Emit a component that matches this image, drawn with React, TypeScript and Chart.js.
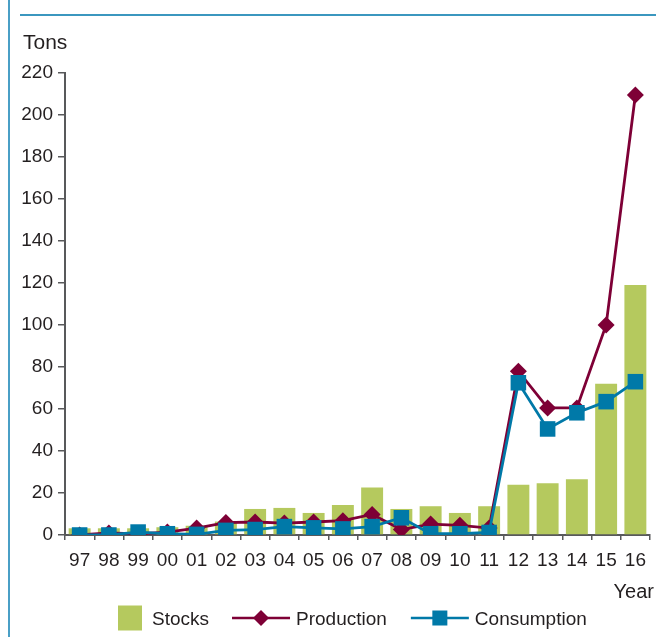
import React, { useEffect, useRef } from 'react';
import { Chart, registerables } from 'chart.js';

Chart.register(...registerables);

const categories = ['97', '98', '99', '00', '01', '02', '03', '04', '05', '06', '07', '08', '09', '10', '11', '12', '13', '14', '15', '16'];
const stocks = [3.2, 3.2, 3.2, 3.7, 4.4, 6.4, 12.4, 12.9, 10.5, 14.3, 22.6, 12.4, 13.7, 10.5, 13.7, 23.9, 24.7, 26.6, 72, 119];
const production = [0, 1, 0.5, 1.4, 3.3, 5.9, 6.2, 5.7, 6.2, 6.8, 9.8, 2.6, 5.2, 4.6, 3.3, 78, 60.5, 60.5, 100, 209.5];
const consumption = [0, 0, 1.4, 0.6, 0.3, 2.2, 2.6, 4, 3.4, 2.9, 4, 8.2, 0.6, 0.6, 1.2, 72.5, 50.5, 58.2, 63.5, 73];
const seriesNames = ['Stocks', 'Production', 'Consumption'];
const yMin = 0;
const yMax = 220;
const yStep = 20;
const unitLabel = 'Tons';
const xAxisLabel = 'Year';

const GREEN = '#b5c95e';
const MAROON = '#7e0036';
const BLUE = '#0079a8';
const TEXT = '#231f20';
const AXIS = '#58595b';
const FONT = "'Liberation Sans', Arial, sans-serif";

const extraPlugin = {
  id: 'extraText',
  afterDraw(chart: any) {
    const { ctx, chartArea: ca } = chart;
    ctx.save();
    ctx.fillStyle = TEXT;
    ctx.textBaseline = 'alphabetic';
    ctx.font = `21px ${FONT}`;
    ctx.textAlign = 'left';
    ctx.fillText(unitLabel, ca.left - 42, ca.top - 24);
    ctx.font = `20px ${FONT}`;
    ctx.textAlign = 'right';
    ctx.fillText(xAxisLabel, ca.right + 4, ca.bottom + 63);

    // legend
    const ds = chart.data.datasets;
    ctx.font = `19px ${FONT}`;
    ctx.textAlign = 'left';
    const cy = ca.bottom + 83;
    let x = ca.left + 53;
    ctx.fillStyle = ds[0].backgroundColor;
    ctx.fillRect(x, cy - 12.5, 24, 25);
    x += 24 + 10;
    ctx.fillStyle = TEXT;
    ctx.fillText(ds[0].label, x, cy + 7);
    x += ctx.measureText(ds[0].label).width + 23;
    for (const i of [1, 2]) {
      const d = ds[i];
      ctx.strokeStyle = d.borderColor;
      ctx.lineWidth = 2.4;
      ctx.beginPath();
      ctx.moveTo(x, cy);
      ctx.lineTo(x + 58, cy);
      ctx.stroke();
      ctx.fillStyle = d.borderColor;
      const mx = x + 29;
      if (d.pointStyle === 'rectRot') {
        const r = 8;
        ctx.beginPath();
        ctx.moveTo(mx, cy - r);
        ctx.lineTo(mx + r, cy);
        ctx.lineTo(mx, cy + r);
        ctx.lineTo(mx - r, cy);
        ctx.closePath();
        ctx.fill();
      } else {
        ctx.fillRect(mx - 7.5, cy - 7.5, 15, 15);
      }
      x += 58 + 6;
      ctx.fillStyle = TEXT;
      ctx.fillText(d.label, x, cy + 7);
      x += ctx.measureText(d.label).width + 24;
    }
    ctx.restore();
  },
};

export default function App() {
  const ref = useRef<HTMLCanvasElement | null>(null);

  useEffect(() => {
    if (!ref.current) return;
    const chart = new Chart(ref.current, {
      type: 'bar',
      data: {
        labels: categories,
        datasets: [
          {
            type: 'bar',
            label: seriesNames[0],
            data: stocks,
            backgroundColor: GREEN,
            barPercentage: 0.75,
            categoryPercentage: 1,
            order: 3,
          } as any,
          {
            type: 'line',
            label: seriesNames[1],
            data: production,
            borderColor: MAROON,
            backgroundColor: MAROON,
            borderWidth: 2.8,
            tension: 0,
            pointStyle: 'rectRot',
            pointRadius: 8.5,
            pointBorderWidth: 0,
            pointBackgroundColor: MAROON,
            order: 2,
          } as any,
          {
            type: 'line',
            label: seriesNames[2],
            data: consumption,
            borderColor: BLUE,
            backgroundColor: BLUE,
            borderWidth: 2.8,
            tension: 0,
            pointStyle: 'rect',
            pointRadius: 11,
            pointBorderWidth: 0,
            pointBackgroundColor: BLUE,
            order: 1,
          } as any,
        ],
      },
      options: {
        animation: false,
        responsive: false,
        devicePixelRatio: 1,
        layout: { padding: { left: 0, right: 17, top: 73, bottom: 62 } },
        plugins: {
          legend: { display: false },
          title: { display: false },
          tooltip: { enabled: false },
        },
        scales: {
          x: {
            offset: true,
            grid: {
              offset: true,
              drawOnChartArea: false,
              drawTicks: true,
              tickLength: 5,
              color: AXIS,
              lineWidth: 1.5,
            },
            border: { display: true, color: AXIS, width: 2 },
            ticks: {
              color: TEXT,
              font: { family: FONT, size: 19 },
              padding: 9,
              maxRotation: 0,
              autoSkip: false,
            },
            afterFit: (s: any) => {
              s.height = 40;
            },
          },
          y: {
            min: yMin,
            max: yMax,
            grid: {
              drawOnChartArea: false,
              drawTicks: true,
              tickLength: 7,
              color: AXIS,
              lineWidth: 1.5,
            },
            border: { display: true, color: AXIS, width: 2 },
            ticks: {
              stepSize: yStep,
              color: TEXT,
              font: { family: FONT, size: 19 },
              padding: 5,
              autoSkip: false,
            },
            afterFit: (s: any) => {
              s.width = 65;
            },
          },
        },
      },
      plugins: [extraPlugin],
    });
    return () => chart.destroy();
  }, []);

  return (
    <div style={{ position: 'absolute', left: 0, top: 0, width: 667, height: 637, background: '#fff', overflow: 'hidden' }}>
      <div style={{ position: 'absolute', left: 8, top: 0, width: 2, height: 637, background: '#4a9fc6' }} />
      <div style={{ position: 'absolute', left: 20, top: 14, width: 636, height: 2, background: '#3b97bf' }} />
      <canvas ref={ref} width={667} height={637} style={{ position: 'absolute', left: 0, top: 0, display: 'block' }} />
    </div>
  );
}
